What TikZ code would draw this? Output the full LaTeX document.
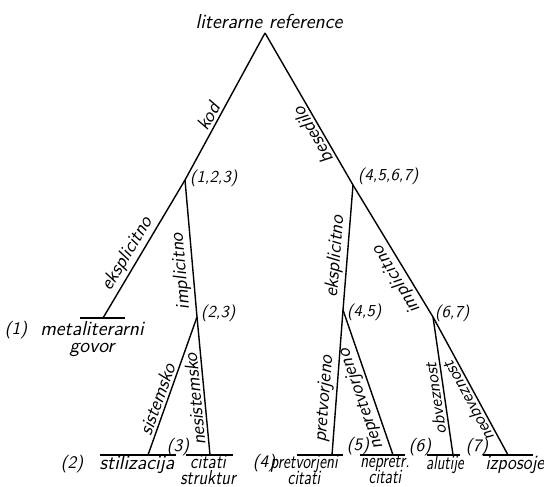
\documentclass[tikz,border=0pt]{standalone}
\usetikzlibrary{positioning}
\tikzset{
  lettering/.style={font={\fontsize{11.5}{8.8}\selectfont\lineskiplimit=-10pt
                          \sffamily\slshape},
                    inner sep=1pt, align=center},
  tuple/.style={font=\fontsize{9.5}{10}\selectfont\sffamily\slshape,
                inner sep=1pt, anchor=west},
  leafno/.style={font=\fontsize{10}{10}\selectfont\sffamily\slshape,
                 inner sep=1pt},
  squeeze/.style={xscale=#1},
  leafbar/.style={inner sep=0pt, minimum height=0pt, minimum width=#1},
  branch/.style={line width=0.8pt},
  edgelbl/.style={font=\fontsize{11}{10}\selectfont\sffamily\slshape,
                  sloped, above, allow upside down, inner sep=1.5pt},
  edgelbls/.style={edgelbl, font=\fontsize{10}{10}\selectfont\sffamily\slshape},
}

\begin{document}
\begin{tikzpicture}[x=0.2mm, y=-0.2mm]
    \useasboundingbox (0,0) rectangle (544,486);
    %% title
    \node[lettering] (top) at (269,21) {literarne reference};
    %% branching points
    \coordinate (root)  at (265,33);
    \coordinate (v123)  at (185,180);
    \coordinate (v4567) at (353,185);
    \coordinate (v23)   at (197,317);
    \coordinate (v45)   at (343,310);
    \coordinate (v67)   at (433,317);
    %% where the branches meet the bars
    \coordinate (e1) at (103,318);
    \coordinate (e2) at (148,455);
    \coordinate (e3) at (210,455);
    \coordinate (e4) at (332,455);
    \coordinate (e5) at (393,455);
    \coordinate (e6) at (453,455);
    \coordinate (e7) at (508,455);
    %% bars under the leaves
    \node[leafbar=9mm]    (b1) at (102.5,318) {};
    \node[leafbar=15.2mm] (b2) at (138,455)   {};
    \node[leafbar=9.4mm]  (b3) at (209.5,455) {};
    \node[leafbar=9.2mm]  (b4) at (320,455)   {};
    \node[leafbar=9mm]    (b5) at (382.5,455) {};
    \node[leafbar=6.6mm]  (b6) at (443.5,455) {};
    \node[leafbar=10mm]   (b7) at (508,455)   {};
    \foreach \b in {1,...,7}
      \draw[branch] (b\b.west) -- (b\b.east);
    %% the tree
    \draw[branch] (v123) -- node[edgelbl, pos=.4] {kod} (root);
    \draw[branch] (v4567) -- node[edgelbl, pos=.36] {besedilo} (root);
    \draw[branch] (e1) -- node[edgelbl, pos=.42] {eksplicitno} (v123);
    \draw[branch] (v23) -- node[edgelbl, pos=.34] {implicitno} (v123);
    \draw[branch] (e2) -- node[edgelbl, pos=.38] {sistemsko} (v23);
    \draw[branch] (e3) -- node[edgelbl, pos=.41] {nesistemsko} (v23);
    \draw[branch] (v45) -- node[edgelbl, pos=.42] {eksplicitno} (v4567);
    \draw[branch] (v67) -- node[edgelbl, pos=.33] {implicitno} (v4567);
    \draw[branch] (e4) -- node[edgelbl, pos=.38] {pretvorjeno} (v45);
    \draw[branch] (e5) -- node[edgelbl, pos=.41] {nepretvorjeno} (v45);
    \draw[branch] (e6) -- node[edgelbls, pos=.42] {obveznost} (v67);
    \draw[branch] (e7) -- node[edgelbls, pos=.42] {neobveznost} (v67);
    %% groups at the branching points
    \node[tuple] (g123)  at (188,178) {(1,2,3)};
    \node[tuple] (g4567) at (356,176) {(4,5,6,7)};
    \node[tuple] (g23)   at (199,313) {(2,3)};
    \node[tuple] (g45)   at (345,312) {(4,5)};
    \node[tuple] (g67)   at (433,313) {(6,7)};
    %% leaves
    \node[leafno] (n1) at (16,330)  {(1)};
    \node[leafno] (n2) at (72,464)  {(2)};
    \node[leafno] (n3) at (178,447) {(3)};
    \node[leafno] (n4) at (264,463) {(4)};
    \node[leafno] (n5) at (358,446) {(5)};
    \node[leafno] (n6) at (420,447) {(6)};
    \node[leafno] (n7) at (477,447) {(7)};
    \node[lettering] (t1) at (92,339)  {metaliterarni\\[1pt]govor};
    \node[lettering] (t2) at (137,465) {stilizacija};
    \node[lettering, squeeze=.85] (t3) at (208,470) {citati\\struktur};
    \node[lettering, squeeze=.78] (t4) at (304,470) {pretvorjeni\\citati};
    \node[lettering, squeeze=.78] (t5) at (385,470) {nepretr.\\citati};
    \node[lettering, squeeze=.75] (t6) at (445,465) {alutije};
    \node[lettering, squeeze=.9]  (t7) at (515,465) {izposoje};
\end{tikzpicture}
\end{document}
